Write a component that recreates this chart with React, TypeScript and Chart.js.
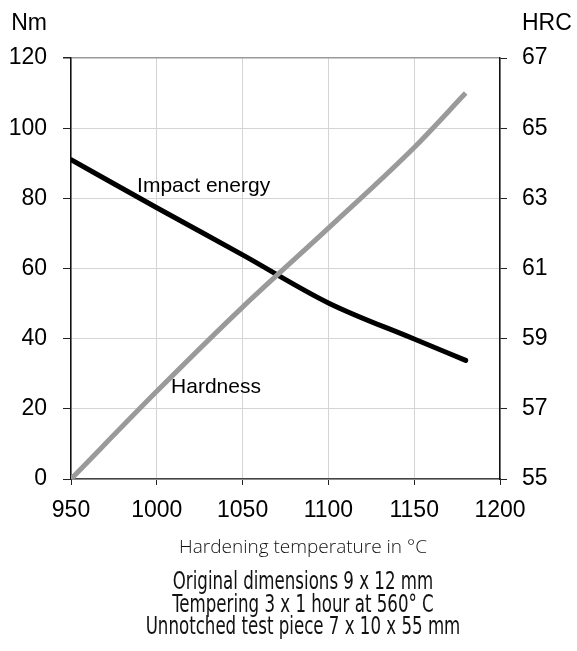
import { useEffect, useRef } from 'react';
import { Chart, registerables } from 'chart.js';

Chart.register(...registerables);

// ---- data ----
const temperatures = [950, 1000, 1050, 1100, 1150, 1180];
const impactEnergy = [91, 77.3, 63.9, 50.2, 39.9, 33.8]; // Nm
const hardness = [55, 57.5, 59.9, 62.15, 64.45, 66]; // HRC

const xMin = 950;
const xMax = 1200;
const xStep = 50;
const nmMin = 0;
const nmMax = 120;
const nmStep = 20;
const hrcMin = 55;
const hrcMax = 67;
const hrcStep = 2;

const seriesNames = ['Impact energy', 'Hardness'];
const seriesLabelTemp = [988.5, 1008.3];
const seriesLabelNm = [81.8, 24.5];

const leftUnit = 'Nm';
const rightUnit = 'HRC';
const xTitle = 'Hardening temperature in °C';
const notes = [
  'Original dimensions 9 x 12 mm',
  'Tempering 3 x 1 hour at 560° C',
  'Unnotched test piece 7 x 10 x 55 mm',
];

const W = 577;
const H = 651;
const tickFont = '"Liberation Sans", Arial, sans-serif';

const textPlugin = {
  id: 'texts',
  afterDraw(chart: any) {
    const ctx = chart.ctx as CanvasRenderingContext2D;
    const { x, y, y1 } = chart.scales;
    ctx.save();
    ctx.fillStyle = '#000';
    ctx.textBaseline = 'alphabetic';
    ctx.font = `23px ${tickFont}`;
    ctx.textAlign = 'right';
    ctx.fillText(leftUnit, y.right - 8 - 16, 30);
    ctx.textAlign = 'left';
    ctx.fillText(rightUnit, y1.left + 7 + 15, 30);

    ctx.font = `21px ${tickFont}`;
    ctx.textAlign = 'left';
    seriesNames.forEach((name, i) => {
      ctx.fillText(name, x.getPixelForValue(seriesLabelTemp[i]), y.getPixelForValue(seriesLabelNm[i]));
    });

    const cx = 303;
    ctx.textAlign = 'center';
    ctx.fillStyle = '#111';
    ctx.font = '300 19px "Open Sans", "DejaVu Sans", sans-serif';
    ctx.fillText(xTitle, cx, 553);
    ctx.font = '25px "DejaVu Sans Condensed", "DejaVu Sans", sans-serif';
    notes.forEach((t, i) => {
      ctx.save();
      ctx.translate(cx, 589 + i * 22.5);
      ctx.scale(0.74, 1);
      ctx.fillText(t, 0, 0);
      ctx.restore();
    });
    ctx.restore();
  },
};

export default function App() {
  const ref = useRef<HTMLCanvasElement | null>(null);
  useEffect(() => {
    if (!ref.current) return;
    const chart = new Chart(ref.current, {
      type: 'line',
      data: {
        datasets: [
          {
            label: seriesNames[0],
            data: temperatures.map((t, i) => ({ x: t, y: impactEnergy[i] })),
            yAxisID: 'y',
            borderColor: '#000',
            borderWidth: 5,
            pointRadius: 0,
            cubicInterpolationMode: 'monotone',
            borderCapStyle: 'round',
            order: 2,
          },
          {
            label: seriesNames[1],
            data: temperatures.map((t, i) => ({ x: t, y: hardness[i] })),
            yAxisID: 'y1',
            borderColor: '#9a9a9a',
            borderWidth: 5,
            pointRadius: 0,
            cubicInterpolationMode: 'monotone',
            order: 1,
          },
        ],
      },
      options: {
        animation: false,
        responsive: false,
        layout: { padding: { top: 58, left: 0, right: 0, bottom: 0 } },
        plugins: { legend: { display: false }, tooltip: { enabled: false } },
        scales: {
          x: {
            type: 'linear',
            min: xMin,
            max: xMax,
            ticks: {
              stepSize: xStep,
              color: '#000',
              font: { family: tickFont, size: 23 },
              padding: 12,
              callback: (v: any) => String(v),
            },
            grid: { color: '#d4d4d4', lineWidth: 1, tickColor: '#222', tickLength: 6 },
            border: { color: '#444', width: 1.5 },
            afterFit: (s: any) => {
              s.height = H - 479;
            },
          },
          y: {
            position: 'left',
            min: nmMin,
            max: nmMax,
            ticks: {
              stepSize: nmStep,
              color: '#000',
              font: { family: tickFont, size: 23 },
              padding: 16,
              callback: (v: any) => String(v),
            },
            grid: {
              color: (c: any) => (c.tick && c.tick.value === nmMax ? '#9a9a9a' : '#d4d4d4'),
              lineWidth: (c: any) => (c.tick && c.tick.value === nmMax ? 1.5 : 1),
              tickColor: '#222',
              tickLength: 8,
            },
            border: { color: '#111', width: 1.5 },
            afterFit: (s: any) => {
              s.width = 71;
            },
          },
          y1: {
            position: 'right',
            min: hrcMin,
            max: hrcMax,
            ticks: {
              stepSize: hrcStep,
              color: '#000',
              font: { family: tickFont, size: 23 },
              padding: 15,
              callback: (v: any) => String(v),
            },
            grid: { drawOnChartArea: false, tickColor: '#222', tickLength: 7 },
            border: { color: '#111', width: 1.5 },
            afterFit: (s: any) => {
              s.width = W - 500;
            },
          },
        },
      } as any,
      plugins: [textPlugin],
    });
    return () => chart.destroy();
  }, []);
  return (
    <div style={{ position: 'fixed', left: 0, top: 0, width: W, height: H, background: '#fff' }}>
      <canvas ref={ref} width={W} height={H} style={{ display: 'block', width: W, height: H }} />
    </div>
  );
}
